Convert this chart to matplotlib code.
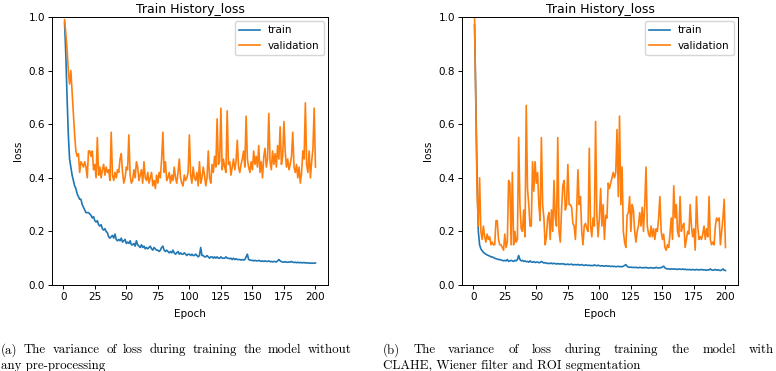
import matplotlib
matplotlib.use('Agg')
import matplotlib.pyplot as plt
import numpy as np

epochs = list(range(1, 201))

# left panel: no pre-processing
train_a = [0.98,0.86,0.70,0.56,0.47,0.44,0.41,0.39,0.37,0.36,
           0.34,0.33,0.32,0.32,0.30,0.29,0.28,0.27,0.27,0.27,
           0.265,0.26,0.25,0.255,0.24,0.235,0.24,0.225,0.22,0.225,
           0.21,0.205,0.21,0.20,0.195,0.18,0.175,0.18,0.185,0.175,
           0.19,0.17,0.165,0.17,0.165,0.175,0.16,0.165,0.17,0.155,
           0.16,0.155,0.165,0.15,0.15,0.155,0.145,0.165,0.15,0.145,
           0.14,0.15,0.14,0.145,0.135,0.14,0.135,0.14,0.145,0.135,
           0.13,0.14,0.135,0.13,0.13,0.125,0.13,0.14,0.145,0.13,
           0.125,0.13,0.125,0.12,0.125,0.12,0.13,0.12,0.115,0.12,
           0.125,0.115,0.12,0.115,0.115,0.12,0.115,0.11,0.115,0.115,
           0.11,0.115,0.11,0.11,0.115,0.11,0.105,0.11,0.14,0.11,
           0.11,0.105,0.105,0.11,0.105,0.10,0.105,0.105,0.10,0.105,
           0.10,0.105,0.10,0.10,0.105,0.10,0.10,0.10,0.105,0.10,
           0.10,0.098,0.10,0.095,0.10,0.095,0.098,0.095,0.095,0.095,
           0.093,0.095,0.093,0.095,0.105,0.115,0.095,0.093,0.092,0.092,
           0.09,0.092,0.09,0.09,0.092,0.09,0.088,0.09,0.088,0.09,
           0.088,0.088,0.09,0.087,0.088,0.086,0.088,0.087,0.086,0.09,
           0.095,0.09,0.087,0.086,0.085,0.087,0.085,0.085,0.086,0.085,
           0.088,0.085,0.084,0.085,0.083,0.085,0.083,0.084,0.083,0.083,
           0.084,0.082,0.083,0.082,0.082,0.081,0.082,0.081,0.082,0.082]

val_a = [0.99,0.94,0.88,0.80,0.75,0.80,0.72,0.64,0.56,0.50,0.48,0.49,
         0.42,0.46,0.45,0.44,0.46,0.44,0.40,0.50,0.50,0.48,0.50,0.43,0.45,
         0.40,0.55,0.41,0.44,0.40,0.43,0.45,0.41,0.44,0.42,0.43,0.39,0.57,0.41,0.39,
         0.42,0.40,0.43,0.42,0.47,0.49,0.42,0.38,0.40,0.44,0.43,0.56,0.41,0.38,0.39,
         0.43,0.40,0.46,0.44,0.39,0.41,0.43,0.38,0.46,0.40,0.39,0.42,0.38,0.40,0.42,
         0.37,0.39,0.36,0.41,0.38,0.42,0.40,0.47,0.57,0.42,0.46,0.39,0.40,0.42,0.38,
         0.41,0.39,0.44,0.40,0.38,0.42,0.47,0.40,0.38,0.37,0.41,0.39,0.40,0.42,0.56,
         0.41,0.38,0.44,0.40,0.39,0.42,0.37,0.46,0.38,0.40,0.44,0.41,0.37,0.40,0.50,
         0.40,0.38,0.45,0.42,0.48,0.44,0.62,0.45,0.46,0.66,0.43,0.47,0.44,0.42,0.65,
         0.45,0.46,0.41,0.44,0.47,0.43,0.46,0.54,0.44,0.42,0.45,0.47,0.50,0.44,0.63,
         0.47,0.44,0.42,0.46,0.43,0.50,0.45,0.48,0.44,0.52,0.42,0.46,0.40,0.48,0.51,
         0.44,0.47,0.64,0.46,0.43,0.50,0.45,0.49,0.44,0.52,0.47,0.59,0.45,0.48,0.61,
         0.50,0.44,0.47,0.43,0.45,0.48,0.57,0.44,0.42,0.45,0.40,0.44,0.38,0.42,0.50,
         0.47,0.68,0.45,0.42,0.50,0.40,0.46,0.51,0.66,0.44]

# right panel: CLAHE + Wiener + ROI
train_b = [0.97,0.70,0.40,0.20,0.15,0.135,0.128,0.122,0.118,0.115,
           0.112,0.11,0.108,0.105,0.105,0.102,0.10,0.098,0.097,0.095,
           0.095,0.093,0.092,0.09,0.092,0.09,0.095,0.088,0.09,0.092,
           0.09,0.088,0.092,0.09,0.095,0.11,0.095,0.09,0.092,0.088,
           0.09,0.087,0.088,0.085,0.09,0.086,0.085,0.087,0.084,0.085,
           0.086,0.083,0.084,0.088,0.085,0.082,0.083,0.082,0.08,0.081,
           0.08,0.082,0.079,0.081,0.08,0.078,0.08,0.079,0.078,0.08,
           0.078,0.079,0.076,0.077,0.078,0.076,0.077,0.078,0.075,0.076,
           0.076,0.075,0.077,0.074,0.075,0.076,0.074,0.073,0.075,0.074,
           0.073,0.074,0.072,0.073,0.072,0.075,0.073,0.072,0.074,0.072,
           0.071,0.072,0.071,0.07,0.072,0.071,0.07,0.071,0.069,0.07,
           0.069,0.07,0.068,0.069,0.07,0.068,0.069,0.068,0.07,0.073,
           0.076,0.07,0.067,0.066,0.067,0.065,0.066,0.065,0.066,0.065,
           0.064,0.066,0.065,0.064,0.065,0.064,0.066,0.064,0.063,0.064,
           0.065,0.063,0.064,0.063,0.066,0.064,0.063,0.065,0.064,0.068,
           0.07,0.064,0.061,0.06,0.06,0.059,0.06,0.06,0.059,0.06,
           0.059,0.058,0.06,0.059,0.058,0.06,0.058,0.059,0.057,0.058,
           0.057,0.058,0.056,0.058,0.057,0.056,0.058,0.057,0.056,0.057,
           0.058,0.056,0.057,0.056,0.055,0.057,0.056,0.06,0.056,0.055,
           0.056,0.058,0.055,0.057,0.055,0.054,0.056,0.06,0.055,0.054]

val_b = [1.0,0.68,0.35,0.22,0.40,0.20,0.17,0.22,0.18,0.16,
         0.19,0.17,0.18,0.15,0.16,0.15,0.15,0.24,0.24,0.17,
         0.15,0.15,0.14,0.13,0.19,0.14,0.16,0.39,0.38,0.15,
         0.42,0.15,0.20,0.16,0.17,0.55,0.30,0.21,0.20,0.28,
         0.18,0.67,0.36,0.30,0.22,0.22,0.46,0.35,0.46,0.38,
         0.42,0.30,0.24,0.55,0.30,0.25,0.15,0.18,0.25,0.27,
         0.17,0.28,0.20,0.39,0.25,0.22,0.55,0.20,0.16,0.28,
         0.37,0.39,0.28,0.30,0.45,0.30,0.30,0.29,0.23,0.22,
         0.17,0.28,0.43,0.30,0.33,0.20,0.15,0.22,0.23,0.21,
         0.20,0.51,0.22,0.18,0.25,0.22,0.61,0.26,0.18,0.25,
         0.36,0.22,0.30,0.17,0.26,0.25,0.38,0.36,0.38,0.40,
         0.42,0.40,0.42,0.58,0.33,0.63,0.30,0.44,0.20,0.16,
         0.14,0.26,0.27,0.33,0.20,0.30,0.28,0.20,0.16,0.20,
         0.22,0.27,0.22,0.29,0.20,0.30,0.44,0.22,0.19,0.18,
         0.22,0.18,0.21,0.17,0.21,0.20,0.25,0.33,0.20,0.17,
         0.19,0.14,0.13,0.15,0.14,0.19,0.25,0.17,0.37,0.25,
         0.30,0.20,0.18,0.33,0.20,0.22,0.23,0.14,0.17,0.20,
         0.19,0.30,0.22,0.18,0.21,0.13,0.33,0.22,0.17,0.18,
         0.17,0.19,0.22,0.17,0.21,0.18,0.33,0.17,0.15,0.16,
         0.15,0.22,0.25,0.24,0.25,0.15,0.20,0.25,0.32,0.14]

cap_a = ["(a) The variance of loss during training the model without",
         "any pre-processing"]
cap_b = ["(b) The variance of loss during training the model with",
         "CLAHE, Wiener filter and ROI segmentation"]

fig = plt.figure(figsize=(7.76, 3.71), dpi=100)
W, H = 776.0, 371.0
boxes = [[52/W, 86/H, 276/W, 268/H], [462/W, 86/H, 276/W, 268/H]]
series = [(train_a, val_a), (train_b, val_b)]
captions = [cap_a, cap_b]
# caption columns (pixels): left edge, right edge
cols = [(1, 352), (383, 774)]
cap_size = 9.3

renderer = fig.canvas.get_renderer()

def justified(line, x0, x1, y):
  # spread words so the line fills x0..x1, like LaTeX does; y in px from top
  words = line.split(" ")
  objs = []
  widths = []
  for w in words:
    t = fig.text(0, 1 - y/H, w, fontfamily="cmr10", fontsize=cap_size, va="center", ha="left")
    widths.append(t.get_window_extent(renderer).width)
    objs.append(t)
  gap = (x1 - x0 - sum(widths)) / (len(words) - 1)
  x = x0
  for t, wd in zip(objs, widths):
    t.set_x(x/W)
    x += wd + gap

for i in range(2):
  ax = fig.add_axes(boxes[i])
  tr, va = series[i]
  ax.plot(epochs, tr, label="train", lw=1.2)
  ax.plot(epochs, va, label="validation", lw=1.2)
  ax.set_ylim(0, 1)
  ax.set_xticks(range(0, 201, 25))
  ax.set_yticks(np.arange(0, 1.01, 0.2))
  ax.tick_params(labelsize=7.5, length=3, width=0.7, pad=2)
  ax.set_title("Train History_loss", fontsize=9, pad=3)
  ax.set_xlabel("Epoch", fontsize=7.5, labelpad=5)
  ax.set_ylabel("loss", fontsize=7.5, labelpad=4)
  for s in ax.spines.values():
    s.set_linewidth(0.7)
  ax.legend(loc="upper right", fontsize=7.5, handlelength=2, borderaxespad=0.4)

  x0, x1 = cols[i]
  justified(captions[i][0], x0, x1, 350)
  fig.text(x0/W, 1 - 366/H, captions[i][1], fontfamily="cmr10", fontsize=cap_size,
           va="center", ha="left")

plt.savefig("out.png", dpi=100)
plt.close()
